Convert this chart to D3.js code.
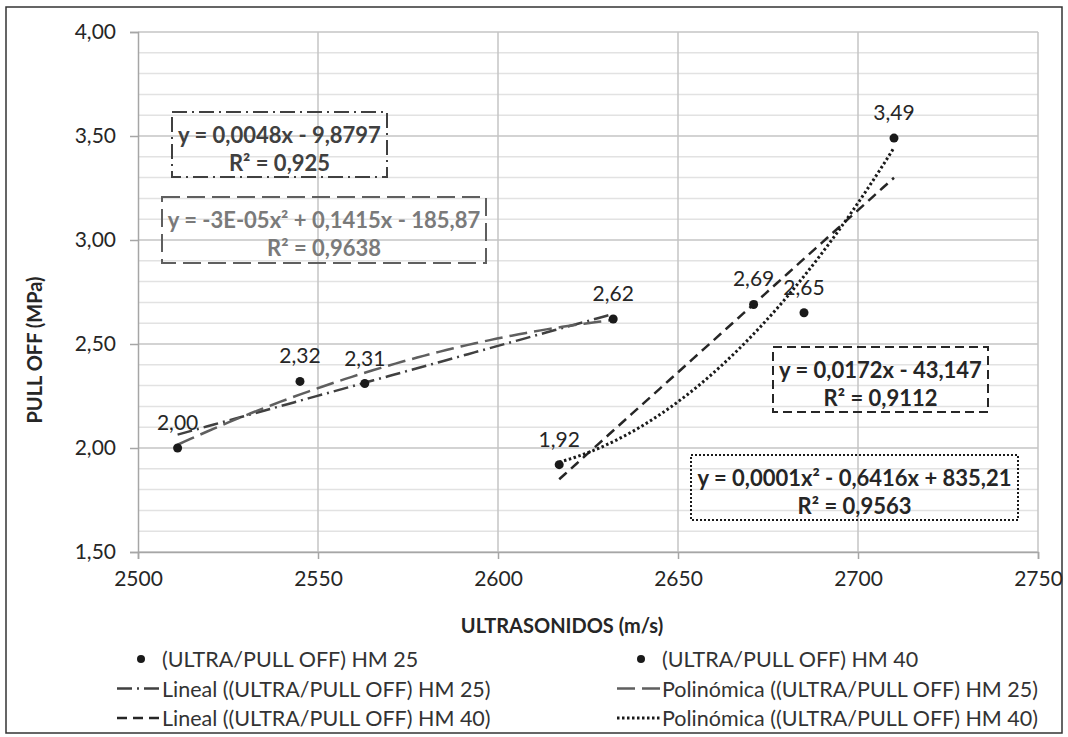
<!DOCTYPE html>
<html>
<head>
<meta charset="utf-8">
<script src="https://cdn.jsdelivr.net/npm/d3@7"></script>
<style>
  body { margin: 0; background: #fff; }
  svg { font-family: Lato, "Open Sans", sans-serif; }
</style>
</head>
<body>
<div id="wrapper"></div>
<script>

// data
const hm25X = [2511, 2545, 2563, 2632]
const hm25Y = [2.00, 2.32, 2.31, 2.62]
const hm40X = [2617, 2671, 2685, 2710]
const hm40Y = [1.92, 2.69, 2.65, 3.49]

const xTicks = [2500, 2550, 2600, 2650, 2700, 2750]
const yTicks = [1.5, 2.0, 2.5, 3.0, 3.5, 4.0]
const yMinorTicks = d3.range(15, 41).map(d => d / 10)

const eqLinear25 = ["y = 0,0048x - 9,8797", "R² = 0,925"]
const eqPoly25 = ["y = -3E-05x² + 0,1415x - 185,87", "R² = 0,9638"]
const eqLinear40 = ["y = 0,0172x - 43,147", "R² = 0,9112"]
const eqPoly40 = ["y = 0,0001x² - 0,6416x + 835,21", "R² = 0,9563"]

const legendLabels = [
  "(ULTRA/PULL OFF) HM 25",
  "(ULTRA/PULL OFF) HM 40",
  "Lineal ((ULTRA/PULL OFF) HM 25)",
  "Polinómica ((ULTRA/PULL OFF) HM 25)",
  "Lineal ((ULTRA/PULL OFF) HM 40)",
  "Polinómica ((ULTRA/PULL OFF) HM 40)",
]

// least squares trend (x centred so the quadratic stays stable)
function polyFit(xs, ys, deg) {
  const m = d3.mean(xs)
  const u = xs.map(x => x - m)
  const n = deg + 1
  const A = d3.range(n).map(i => d3.range(n).map(j => d3.sum(u, v => v ** (i + j))))
  const b = d3.range(n).map(i => d3.sum(u, (v, k) => ys[k] * v ** i))
  for (let c = 0; c < n; c++) {
    for (let r = c + 1; r < n; r++) {
      const f = A[r][c] / A[c][c]
      for (let k = c; k < n; k++) A[r][k] -= f * A[c][k]
      b[r] -= f * b[c]
    }
  }
  const coef = new Array(n).fill(0)
  for (let r = n - 1; r >= 0; r--) {
    let s = b[r]
    for (let k = r + 1; k < n; k++) s -= A[r][k] * coef[k]
    coef[r] = s / A[r][r]
  }
  return x => coef.reduce((s, c, i) => s + c * (x - m) ** i, 0)
}

function drawChart() {

  let dimensions = {
    width: 1068,
    height: 737,
    margin: { top: 32, right: 30, bottom: 185, left: 138 },
  }
  dimensions.boundedWidth = dimensions.width - dimensions.margin.left - dimensions.margin.right
  dimensions.boundedHeight = dimensions.height - dimensions.margin.top - dimensions.margin.bottom

  const wrapper = d3.select("#wrapper")
    .append("svg")
      .attr("width", dimensions.width)
      .attr("height", dimensions.height)

  // outer chart border
  wrapper.append("rect")
      .attr("x", 6).attr("y", 7)
      .attr("width", 1056).attr("height", 726)
      .attr("fill", "none")
      .attr("stroke", "#333")
      .attr("stroke-width", 1.5)

  const bounds = wrapper.append("g")
      .attr("transform", `translate(${dimensions.margin.left},${dimensions.margin.top})`)

  const xScale = d3.scaleLinear().domain([2500, 2750]).range([0, dimensions.boundedWidth])
  const yScale = d3.scaleLinear().domain([1.5, 4.0]).range([dimensions.boundedHeight, 0])

  // grid
  bounds.append("g").selectAll("line")
    .data(yMinorTicks)
    .join("line")
      .attr("x1", 0).attr("x2", dimensions.boundedWidth)
      .attr("y1", d => yScale(d)).attr("y2", d => yScale(d))
      .attr("stroke", d => Math.abs(d * 2 - Math.round(d * 2)) < 1e-6 ? "#c4c4c4" : "#e2e2e2")
      .attr("stroke-width", 1.5)
  bounds.append("g").selectAll("line")
    .data(xTicks.slice(1))
    .join("line")
      .attr("x1", d => xScale(d)).attr("x2", d => xScale(d))
      .attr("y1", 0).attr("y2", dimensions.boundedHeight)
      .attr("stroke", "#c4c4c4")
      .attr("stroke-width", 1.5)

  const fmt = d3.format(".2f")
  const comma = d => fmt(d).replace(".", ",")

  const yAxis = bounds.append("g")
      .call(d3.axisLeft(yScale).tickValues(yTicks).tickSize(8).tickFormat(comma).tickPadding(14))
  const xAxis = bounds.append("g")
      .attr("transform", `translate(0,${dimensions.boundedHeight})`)
      .call(d3.axisBottom(xScale).tickValues(xTicks).tickSize(7).tickFormat(d3.format("d")).tickPadding(12))
  ;[yAxis, xAxis].forEach(ax => {
    ax.select(".domain").attr("stroke", "#a6a6a6").attr("stroke-width", 1.5)
    ax.selectAll(".tick line").attr("stroke", "#a6a6a6").attr("stroke-width", 1.5)
    ax.selectAll(".tick text").attr("fill", "#262626").style("font-size", "21px").style("font-family", "Lato")
  })

  // trendlines
  const trends = [
    { xs: hm25X, ys: hm25Y, deg: 1, color: "#404040", dash: "15,5,2,5", w: 2.5 },
    { xs: hm25X, ys: hm25Y, deg: 2, color: "#5f5f5f", dash: "18,7", w: 2.5 },
    { xs: hm40X, ys: hm40Y, deg: 1, color: "#262626", dash: "10,6", w: 2.5 },
    { xs: hm40X, ys: hm40Y, deg: 2, color: "#1a1a1a", dash: "2.5,2.5", w: 3 },
  ]
  const lineGen = d3.line().x(d => xScale(d[0])).y(d => yScale(d[1]))
  trends.forEach(t => {
    const f = polyFit(t.xs, t.ys, t.deg)
    const [x0, x1] = d3.extent(t.xs)
    const pts = d3.range(61).map(i => x0 + (x1 - x0) * i / 60).map(x => [x, f(x)])
    bounds.append("path")
        .attr("d", lineGen(pts))
        .attr("fill", "none")
        .attr("stroke", t.color)
        .attr("stroke-width", t.w)
        .attr("stroke-dasharray", t.dash)
  })

  // points + labels
  const points = hm25X.map((x, i) => [x, hm25Y[i]]).concat(hm40X.map((x, i) => [x, hm40Y[i]]))
  bounds.append("g").selectAll("circle")
    .data(points)
    .join("circle")
      .attr("cx", d => xScale(d[0]))
      .attr("cy", d => yScale(d[1]))
      .attr("r", 4.5)
      .attr("fill", "#1a1a1a")
  bounds.append("g").selectAll("text")
    .data(points)
    .join("text")
      .attr("x", d => xScale(d[0]))
      .attr("y", d => yScale(d[1]) - 18)
      .attr("text-anchor", "middle")
      .attr("fill", "#262626")
      .style("font-size", "21px")
      .text(d => comma(d[1]))

  // equation boxes (corners in data units)
  const boxes = [
    { lines: eqLinear25, x0: 2509.4, x1: 2569.2, y0: 3.615, y1: 3.303, text: "#404040", stroke: "#404040", dash: "15,5,2,5" },
    { lines: eqPoly25, x0: 2506.7, x1: 2596.7, y0: 3.207, y1: 2.889, text: "#7a7a7a", stroke: "#5f5f5f", dash: "18,7" },
    { lines: eqLinear40, x0: 2676.4, x1: 2736.1, y0: 2.486, y1: 2.173, text: "#262626", stroke: "#262626", dash: "9,5" },
    { lines: eqPoly40, x0: 2653.6, x1: 2744.4, y0: 1.966, y1: 1.654, text: "#262626", stroke: "#1a1a1a", dash: "2,2" },
  ]
  boxes.forEach(b => {
    const g = bounds.append("g")
    const left = Math.round(xScale(b.x0)), right = Math.round(xScale(b.x1))
    const top = Math.round(yScale(b.y0)), bottom = Math.round(yScale(b.y1))
    g.append("rect")
        .attr("x", left).attr("y", top)
        .attr("width", right - left).attr("height", bottom - top)
        .attr("fill", "none")
        .attr("stroke", b.stroke)
        .attr("stroke-width", 2)
        .attr("stroke-dasharray", b.dash)
    g.selectAll("text")
      .data(b.lines)
      .join("text")
        .attr("x", (left + right) / 2)
        .attr("y", (d, i) => top + 22 + i * 28)
        .attr("dominant-baseline", "central")
        .attr("text-anchor", "middle")
        .attr("fill", b.text)
        .style("font-size", "22px")
        .style("font-weight", "bold")
        .text(d => d)
  })

  // axis titles
  wrapper.append("text")
      .attr("x", 562).attr("y", 625)
      .attr("dominant-baseline", "central")
      .attr("text-anchor", "middle")
      .attr("fill", "#262626")
      .style("font-size", "20px")
      .style("font-weight", "bold")
      .text("ULTRASONIDOS (m/s)")
  wrapper.append("text")
      .attr("transform", "translate(34,350) rotate(-90)")
      .attr("dominant-baseline", "central")
      .attr("text-anchor", "middle")
      .attr("fill", "#262626")
      .style("font-size", "20px")
      .style("font-weight", "bold")
      .text("PULL OFF (MPa)")

  // legend
  const legendItems = [
    { type: "dot" }, { type: "dot" },
    { type: "line", t: trends[0] }, { type: "line", t: trends[1] },
    { type: "line", t: trends[2] }, { type: "line", t: trends[3] },
  ]
  const legend = wrapper.append("g")
  legendItems.forEach((item, i) => {
    const col = i % 2, row = Math.floor(i / 2)
    const lx = col == 0 ? 162 : 662
    const ly = 659 + row * 29.5
    if (item.type == "dot") {
      legend.append("circle")
          .attr("cx", lx - 21).attr("cy", ly).attr("r", 4)
          .attr("fill", "#1a1a1a")
    } else {
      legend.append("line")
          .attr("x1", lx - 45).attr("x2", lx - 2)
          .attr("y1", ly).attr("y2", ly)
          .attr("stroke", item.t.color)
          .attr("stroke-width", item.t.w)
          .attr("stroke-dasharray", item.t.dash)
    }
    legend.append("text")
        .attr("x", lx).attr("y", ly)
        .attr("dominant-baseline", "central")
        .attr("fill", "#333")
        .style("font-size", "21.5px")
        .text(legendLabels[i])
  })
}

drawChart()
</script>
</body>
</html>
